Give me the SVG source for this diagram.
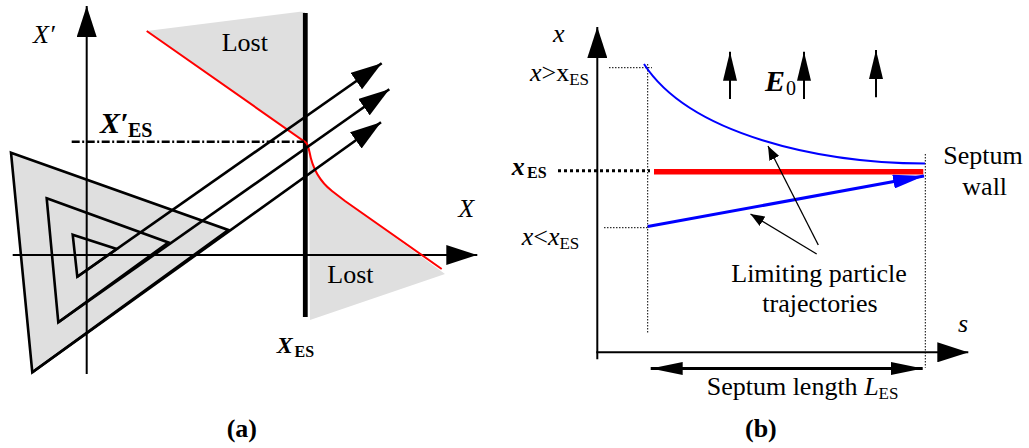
<svg xmlns="http://www.w3.org/2000/svg" width="1029" height="448" viewBox="0 0 1029 448">
<style>
text{font-family:"Liberation Serif","Times New Roman",serif;font-size:26px;fill:#000}
.it{font-style:italic}
.b{font-weight:bold}
.ax{stroke:#000;stroke-width:2;fill:none}
.ln{stroke:#000;stroke-width:2.6;fill:none}
.dot{stroke:#000;stroke-width:1;stroke-dasharray:1.5 1.5;fill:none}
.gray{fill:#dfdfdf;stroke:none}
</style>
<defs>
<marker id="ahBig" markerUnits="userSpaceOnUse" markerWidth="31" markerHeight="20" refX="31" refY="10" orient="auto" viewBox="0 0 31 20"><path d="M0,0 L31,10 L0,20 Z" fill="#000"/></marker>
<marker id="ahE" markerUnits="userSpaceOnUse" markerWidth="29" markerHeight="14" refX="29" refY="7" orient="auto" viewBox="0 0 29 14"><path d="M0,0 L29,7 L0,14 Z" fill="#000"/></marker>
<marker id="ahS" markerUnits="userSpaceOnUse" markerWidth="14" markerHeight="11" refX="14" refY="5.5" orient="auto" viewBox="0 0 14 11"><path d="M0,0 L14,5.5 L0,11 Z" fill="#000"/></marker>
<marker id="ahBlue" markerUnits="userSpaceOnUse" markerWidth="31" markerHeight="14" refX="31" refY="7" orient="auto" viewBox="0 0 31 14"><path d="M0,0 L31,7 L0,14 Z" fill="#0000ff"/></marker>
<marker id="ahD" markerUnits="userSpaceOnUse" markerWidth="32" markerHeight="13" refX="32" refY="6.5" orient="auto-start-reverse" viewBox="0 0 32 13"><path d="M0,0 L32,6.5 L0,13 Z" fill="#000"/></marker>
</defs>

<g id="panel-a">
  <g id="lost-regions">
    <path class="gray" d="M146.7,31 L300,11.7 L305,12 L305,141 Z"/>
    <path class="gray" d="M309,148 C312,166 318,180 332,191 L345,201 L445,274 L310,320 Z"/>
  </g>
  <g id="beam-triangles">
    <polygon points="11,152.7 228.3,230 32.3,372.3" fill="#dfdfdf" stroke="#000" stroke-width="2.6"/>
    <polygon points="46.7,198.3 168.3,242.5 58.3,322.3" fill="none" stroke="#000" stroke-width="2.6"/>
    <polygon points="72.7,234.7 116.7,249 77.3,276.7" fill="none" stroke="#000" stroke-width="2.6"/>
  </g>
  <g id="axes-a">
    <line class="ax" x1="86.7" y1="374" x2="86.7" y2="6" marker-end="url(#ahBig)"/>
    <line class="ax" x1="12.7" y1="255" x2="477.3" y2="255" marker-end="url(#ahBig)"/>
  </g>
  <g id="septum-a">
    <line x1="305.3" y1="13" x2="305.3" y2="317" stroke="#000" stroke-width="4.8"/>
  </g>
  <g id="separatrix">
    <path d="M146.7,31 L303,140.5 C307,142 308,145 309.5,152 C312,166 318,180 332,191 L345,201 L441.7,269" fill="none" stroke="#ff0000" stroke-width="2"/>
  </g>
  <g id="xprime-es-line">
    <line x1="71.7" y1="141.7" x2="304" y2="141.7" stroke="#000" stroke-width="2.4" stroke-dasharray="8 2.5 2 2.5"/>
  </g>
  <g id="connectors-a">
    <line class="ln" x1="32.3" y1="372.3" x2="381" y2="122.3" marker-end="url(#ahBig)"/>
    <line class="ln" x1="58.3" y1="322.3" x2="389.3" y2="89.3" marker-end="url(#ahBig)"/>
    <line class="ln" x1="77.3" y1="276.7" x2="381.7" y2="63.3" marker-end="url(#ahBig)"/>
  </g>
  <g id="labels-a">
    <text class="it" x="33" y="42.7" font-size="21">X′</text>
    <text x="221.7" y="50.7">Lost</text>
    <text x="100" y="133.3"><tspan class="b it" font-size="30">X′</tspan><tspan class="b" font-size="20" x="128" y="136.7">ES</tspan></text>
    <text class="it" x="458.3" y="216.7" font-size="24">X</text>
    <text x="327.3" y="283.3">Lost</text>
    <text x="276.7" y="353.3"><tspan class="b it" font-size="24">X</tspan><tspan class="b" font-size="16" x="294.5" y="357.3">ES</tspan></text>
    <text class="b" x="226.7" y="437.3" font-size="30">(a)</text>
  </g>
</g>

<g id="panel-b">
  <g id="guides-b">
    <line class="dot" x1="609" y1="67.7" x2="652" y2="67.7"/>
    <line class="dot" x1="647.7" y1="64" x2="647.7" y2="333"/>
    <line class="dot" x1="604" y1="227.7" x2="647.7" y2="227.7"/>
    <line class="dot" x1="925.3" y1="154" x2="925.3" y2="367.7"/>
    <line x1="558" y1="170.7" x2="650" y2="170.7" stroke="#000" stroke-width="3" stroke-dasharray="3 3"/>
  </g>
  <g id="axes-b">
    <line class="ax" x1="597.3" y1="359.3" x2="597.3" y2="27" marker-end="url(#ahBig)"/>
    <line class="ax" x1="596.3" y1="352.3" x2="968.3" y2="352.3" marker-end="url(#ahBig)"/>
  </g>
  <g id="septum-wall">
    <line x1="654" y1="171.7" x2="923.3" y2="171.7" stroke="#ff0000" stroke-width="5.5"/>
  </g>
  <g id="trajectories">
    <path d="M644,64 C690,135 820,163 925,163.5" fill="none" stroke="#0000ff" stroke-width="2"/>
    <line x1="647.7" y1="226.5" x2="924" y2="176" stroke="#0000ff" stroke-width="3" marker-end="url(#ahBlue)"/>
  </g>
  <g id="field-arrows">
    <line class="ax" x1="730" y1="99" x2="730" y2="51.7" marker-end="url(#ahE)"/>
    <line class="ax" x1="804" y1="99" x2="804" y2="51.7" marker-end="url(#ahE)"/>
    <line class="ax" x1="876" y1="97.3" x2="876" y2="50" marker-end="url(#ahE)"/>
  </g>
  <g id="connectors-b">
    <line x1="818.3" y1="245" x2="768" y2="146" stroke="#000" stroke-width="1.3" marker-end="url(#ahS)"/>
    <line x1="816.7" y1="254" x2="750.5" y2="214" stroke="#000" stroke-width="1.3" marker-end="url(#ahS)"/>
    <line x1="650.7" y1="368.5" x2="922.7" y2="368.5" stroke="#000" stroke-width="3" marker-start="url(#ahD)" marker-end="url(#ahD)"/>
  </g>
  <g id="labels-b">
    <text class="it" x="553" y="42">x</text>
    <text x="530" y="81"><tspan class="it">x</tspan>&gt;x<tspan font-size="17" dy="4">ES</tspan></text>
    <text x="765" y="91"><tspan class="b it" font-size="30">E</tspan><tspan font-size="20" x="786" y="95">0</tspan></text>
    <text x="511.7" y="175"><tspan class="b it">x</tspan><tspan class="b" font-size="16" x="527" y="178.3">ES</tspan></text>
    <text x="521.7" y="245"><tspan class="it">x</tspan>&lt;<tspan class="it">x</tspan><tspan font-size="17" dy="3.5">ES</tspan></text>
    <text x="983" y="164" text-anchor="middle">Septum</text>
    <text x="984.7" y="195" text-anchor="middle">wall</text>
    <text x="819" y="281.7" text-anchor="middle">Limiting particle</text>
    <text x="820" y="312" text-anchor="middle">trajectories</text>
    <text class="it" x="958" y="331.7">s</text>
    <text x="706.7" y="395">Septum length <tspan class="it">L</tspan><tspan font-size="17" dy="3.5">ES</tspan></text>
    <text class="b" x="745" y="436.7" font-size="30">(b)</text>
  </g>
</g>
</svg>
